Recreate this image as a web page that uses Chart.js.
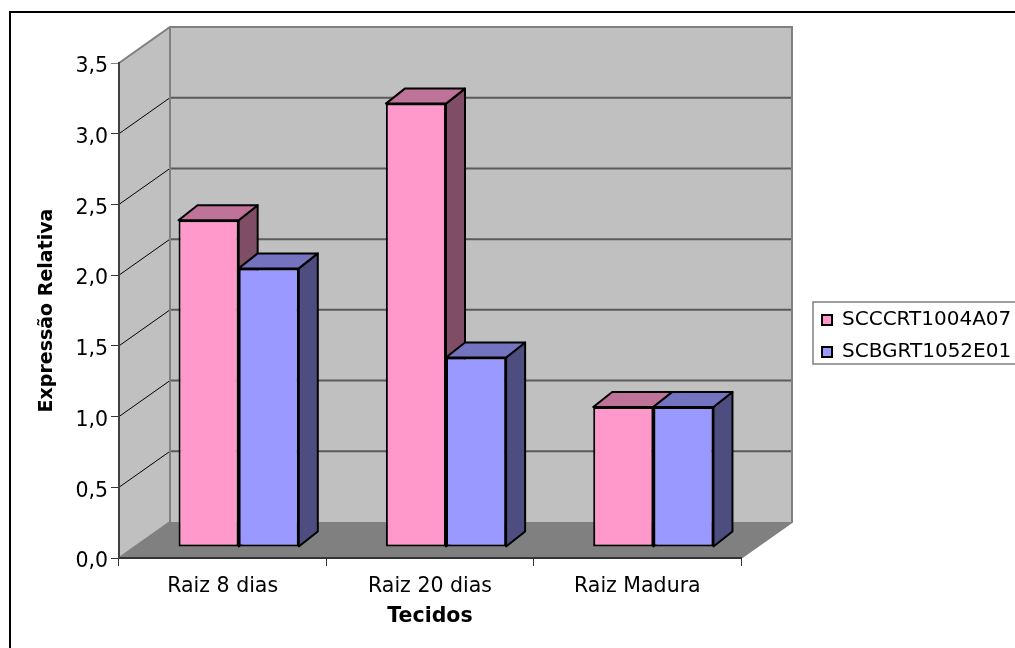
<!DOCTYPE html>
<html>
<head>
<meta charset="utf-8">
<title>Expressão Relativa</title>
<script src="https://cdn.jsdelivr.net/npm/chart.js@4"></script>
<style>
  html, body { margin: 0; padding: 0; background: #fff; overflow: hidden; }
  canvas { display: block; }
</style>
</head>
<body>
<canvas id="chart" width="1015" height="648"></canvas>
<script>
const categories = ['Raiz 8 dias', 'Raiz 20 dias', 'Raiz Madura'];
const seriesNames = ['SCCCRT1004A07', 'SCBGRT1052E01'];
const seriesA = [2.31, 3.135, 0.99];
const seriesB = [1.97, 1.34, 0.99];
const yTickLabels = ['0,0', '0,5', '1,0', '1,5', '2,0', '2,5', '3,0', '3,5'];

const fontFamily = '"DejaVu Sans", Verdana, sans-serif';

// oblique projection: walls sit behind the front plane, bars in the middle of the floor
const WALL_DX = 51, WALL_DY = -36;
const BAR_DX = 16, BAR_DY = -11;
const DEPTH_DX = 19, DEPTH_DY = -15;

function poly(ctx, pts, fill, stroke, width) {
    ctx.beginPath();
    pts.forEach((p, i) => i ? ctx.lineTo(p[0], p[1]) : ctx.moveTo(p[0], p[1]));
    ctx.closePath();
    if (fill) { ctx.fillStyle = fill; ctx.fill(); }
    if (stroke) { ctx.strokeStyle = stroke; ctx.lineWidth = width; ctx.lineJoin = 'round'; ctx.stroke(); }
}

const walls = {
    id: 'walls',
    beforeDraw(chart) {
        const { ctx, chartArea: a, scales: { y } } = chart;
        const bl = a.left + WALL_DX, br = a.right + WALL_DX;
        const bt = a.top + WALL_DY, bb = a.bottom + WALL_DY;
        ctx.save();
        // outer frame, runs past the right and bottom edge of the page
        ctx.strokeStyle = '#000';
        ctx.lineWidth = 2;
        ctx.strokeRect(10, 12, 1015, 648);

        poly(ctx, [[a.left, a.top], [bl, bt], [bl, bb], [a.left, a.bottom]], '#C0C0C0');
        poly(ctx, [[bl, bt], [br, bt], [br, bb], [bl, bb]], '#C0C0C0');
        poly(ctx, [[a.left, a.bottom], [a.right, a.bottom], [br, bb], [bl, bb]], '#808080');

        // back wall and side wall grid lines, one per tick
        yTickLabels.forEach((label, i) => {
            const v = i * 0.5;
            if (i === 0 || i === yTickLabels.length - 1) return;
            const py = y.getPixelForValue(v);
            ctx.lineWidth = 2;
            ctx.strokeStyle = '#5a5a5a';
            ctx.beginPath();
            ctx.moveTo(bl, py + WALL_DY);
            ctx.lineTo(br, py + WALL_DY);
            ctx.stroke();
            ctx.lineWidth = 1;
            ctx.strokeStyle = '#000';
            ctx.beginPath();
            ctx.moveTo(a.left, py);
            ctx.lineTo(bl, py + WALL_DY);
            ctx.stroke();
        });

        // wall outlines
        ctx.strokeStyle = '#808080';
        ctx.lineWidth = 2;
        ctx.beginPath();
        ctx.moveTo(a.left, a.top);
        ctx.lineTo(bl, bt);
        ctx.lineTo(br, bt);
        ctx.lineTo(br, bb);
        ctx.lineTo(a.right, a.bottom);
        ctx.moveTo(bl, bt);
        ctx.lineTo(bl, bb);
        ctx.lineTo(a.left, a.bottom);
        ctx.stroke();
        ctx.restore();
    }
};

const bars3d = {
    id: 'bars3d',
    beforeDatasetsDraw(chart) {
        const ctx = chart.ctx;
        ctx.save();
        ctx.translate(BAR_DX, BAR_DY);
        chart.data.datasets.forEach((ds, d) => {
            chart.getDatasetMeta(d).data.forEach(bar => {
                const p = bar.getProps(['x', 'y', 'base', 'width'], true);
                const l = p.x - p.width / 2, r = p.x + p.width / 2;
                poly(ctx, [[r, p.y], [r + DEPTH_DX, p.y + DEPTH_DY], [r + DEPTH_DX, p.base + DEPTH_DY], [r, p.base]], ds.sideColor, '#000', 2);
                poly(ctx, [[l, p.y], [l + DEPTH_DX, p.y + DEPTH_DY], [r + DEPTH_DX, p.y + DEPTH_DY], [r, p.y]], ds.topColor, '#000', 2);
            });
        });
    },
    afterDatasetsDraw(chart) {
        chart.ctx.restore();
    }
};

// legend sits outside the plot, pin it where the frame is
const legendBox = {
    id: 'legendBox',
    afterLayout(chart) {
        const lg = chart.legend;
        lg.left = 810; lg.right = 1015; lg.top = 298; lg.bottom = 640;
        // y labels sit a little under their ticks in the original
        chart.scales.y.getLabelItems().forEach(item => { item.options.translation[1] += 4; });
    },
    afterDraw(chart) {
        const ctx = chart.ctx;
        ctx.save();
        ctx.strokeStyle = '#808080';
        ctx.lineWidth = 1.5;
        ctx.strokeRect(813, 302, 220, 62);
        ctx.restore();
    }
};

new Chart(document.getElementById('chart'), {
    type: 'bar',
    data: {
        labels: categories,
        datasets: [
            { label: seriesNames[0], data: seriesA, backgroundColor: '#FF99CC', topColor: '#BF7399', sideColor: '#804D66', borderColor: '#000', borderWidth: 2, borderSkipped: false, clip: false },
            { label: seriesNames[1], data: seriesB, backgroundColor: '#9999FF', topColor: '#7373BF', sideColor: '#4D4D80', borderColor: '#000', borderWidth: 2, borderSkipped: false, clip: false }
        ]
    },
    plugins: [walls, bars3d, legendBox],
    options: {
        responsive: false,
        animation: false,
        layout: { padding: { left: 0, right: 274, top: 63, bottom: 0 } },
        categoryPercentage: 0.58,
        barPercentage: 1,
        plugins: {
            tooltip: { enabled: false },
            legend: {
                position: 'chartArea',
                align: 'start',
                labels: { boxWidth: 10, boxHeight: 10, padding: 12, color: '#000', font: { family: fontFamily, size: 20 } }
            }
        },
        scales: {
            x: {
                afterFit(scale) { scale.height = 90; },
                grid: { drawOnChartArea: false, drawTicks: true, tickLength: 8, tickColor: '#333', color: '#333' },
                border: { color: '#333', width: 2 },
                ticks: { color: '#000', padding: 8, maxRotation: 0, font: { family: fontFamily, size: 20.5 } },
                title: { display: true, text: 'Tecidos', color: '#000', padding: { top: 0, bottom: 19 }, font: { family: fontFamily, size: 20.5, weight: 'bold' } }
            },
            y: {
                min: 0,
                max: 3.5,
                afterFit(scale) { scale.width = 119; },
                grid: {
                    drawOnChartArea: false,
                    drawTicks: true,
                    tickLength: 8,
                    tickColor: (c) => c.tick && c.tick.value === 3.5 ? '#808080' : '#333',
                    color: '#333'
                },
                border: { color: '#404040', width: 2 },
                ticks: {
                    stepSize: 0.5,
                    color: '#000',
                    padding: 3,
                    font: { family: fontFamily, size: 20.5 },
                    callback: (v) => yTickLabels[Math.round(v / 0.5)]
                },
                title: { display: true, text: 'Expressão Relativa', color: '#000', padding: { top: 36, bottom: 0 }, font: { family: fontFamily, size: 19, weight: 'bold' } }
            }
        }
    }
});
</script>
</body>
</html>
